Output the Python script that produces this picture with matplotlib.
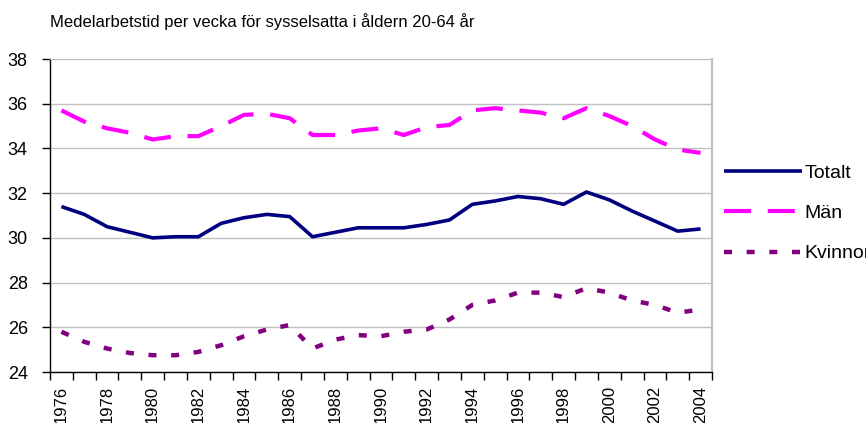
import numpy as np
import matplotlib.pyplot as plt
from matplotlib.ticker import FixedLocator, FixedFormatter

years = list(range(1976, 2005))

totalt = [31.4, 31.05, 30.5, 30.25, 30.0, 30.05, 30.05, 30.65, 30.9, 31.05,
          30.95, 30.05, 30.25, 30.45, 30.45, 30.45, 30.6, 30.8, 31.5, 31.65,
          31.85, 31.75, 31.5, 32.05, 31.7, 31.2, 30.75, 30.3, 30.4]

man = [35.7, 35.2, 34.9, 34.7, 34.4, 34.55, 34.55, 35.0, 35.5, 35.55,
       35.35, 34.6, 34.6, 34.8, 34.9, 34.6, 34.95, 35.05, 35.7, 35.8,
       35.7, 35.6, 35.35, 35.8, 35.45, 35.0, 34.4, 33.95, 33.8]

kvinnor = [25.8, 25.35, 25.05, 24.85, 24.75, 24.75, 24.9, 25.2, 25.6, 25.9,
           26.1, 25.05, 25.45, 25.65, 25.6, 25.8, 25.9, 26.35, 27.0, 27.2,
           27.55, 27.55, 27.35, 27.75, 27.55, 27.2, 27.0, 26.65, 26.8]

seriesNames = ['Totalt', 'Män', 'Kvinnor']
title = 'Medelarbetstid per vecka för sysselsatta i åldern 20-64 år'

FONT = ['Liberation Sans', 'DejaVu Sans']


def plotWorkingHours():
    plt.rcParams['font.family'] = FONT
    fig = plt.figure(figsize=(8.66, 4.23), dpi=100)
    ax = fig.add_axes([50 / 866, 51 / 423, 662 / 866, 313 / 423])

    x = np.arange(len(years))
    ax.plot(x, totalt, color='#000080', lw=2.6, label=seriesNames[0],
            solid_capstyle='butt')
    ax.plot(x, man, color='#ff00ff', lw=3.0, label=seriesNames[1],
            dashes=(6.5, 4.0))
    ax.plot(x, kvinnor, color='#800080', lw=3.2, label=seriesNames[2],
            dashes=(1.8, 3.3))

    ax.set_xlim(-0.5, len(years) - 0.5)
    ax.set_ylim(24, 38)
    ax.set_yticks(np.arange(24, 39, 2))

    # ticks between categories, labels every other year
    ax.xaxis.set_major_locator(FixedLocator(np.arange(-0.5, len(years), 1.0)))
    ax.xaxis.set_major_formatter(FixedFormatter([]))
    ax.xaxis.set_minor_locator(FixedLocator(x[::2]))
    ax.xaxis.set_minor_formatter(FixedFormatter([str(y) for y in years[::2]]))
    ax.tick_params(axis='x', which='major', length=6, width=1, direction='out')
    ax.tick_params(axis='x', which='minor', length=0, pad=10, labelsize=12,
                   labelrotation=90)
    ax.tick_params(axis='y', length=6, width=1, direction='out', pad=10,
                   labelsize=13)
    for lab in ax.xaxis.get_minorticklabels():
        lab.set_va('top')

    ax.grid(axis='y', color='#c0c0c0', lw=1)
    ax.set_axisbelow(True)
    ax.spines['top'].set_color('#c0c0c0')
    ax.spines['right'].set_color('#c0c0c0')
    ax.spines['right'].set_linewidth(1.6)
    ax.spines['left'].set_linewidth(1)
    ax.spines['bottom'].set_linewidth(1)

    ax.legend(loc='upper left', bbox_to_anchor=(724 / 866, 1 - 164 / 423),
              bbox_transform=fig.transFigure, frameon=False, fontsize=14,
              handlelength=4.0, handletextpad=0.15, labelspacing=1.17,
              borderaxespad=0, borderpad=0)

    fig.text(50 / 866, 1 - 22 / 423, title, fontsize=12, va='center', ha='left')

    fig.savefig('out.png', dpi=100)


def main():
    plotWorkingHours()
    return


if __name__ == "__main__":
    main()
